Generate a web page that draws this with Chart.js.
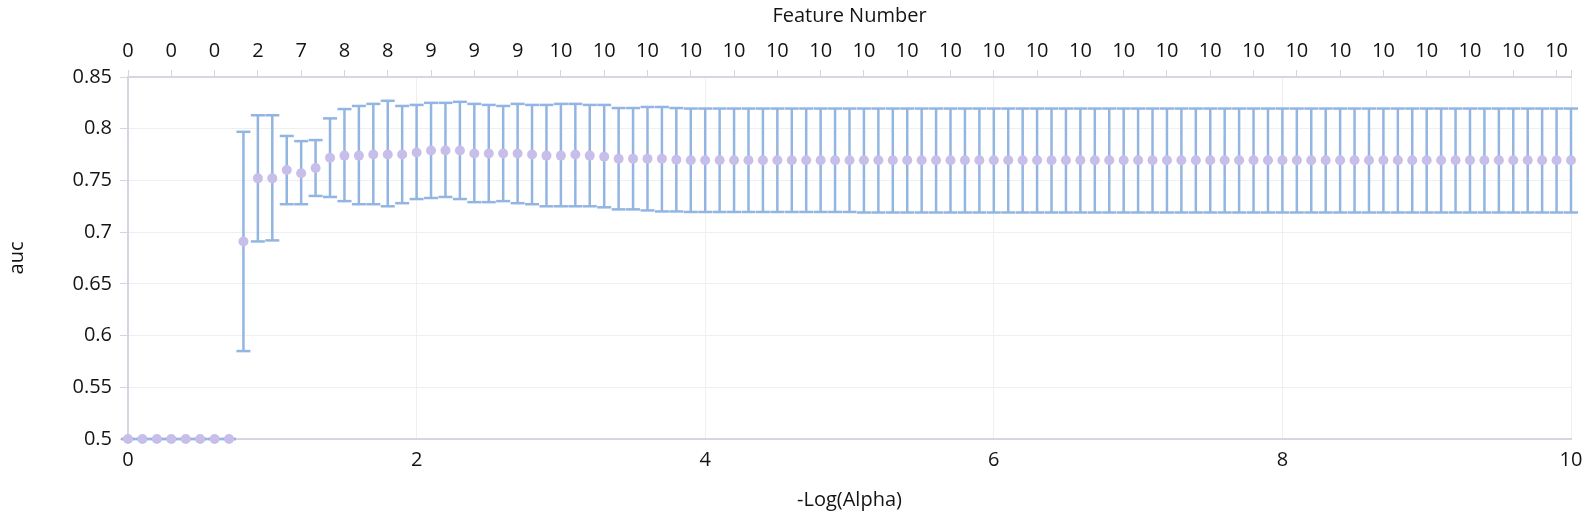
<!DOCTYPE html>
<html>
<head>
<meta charset="utf-8">
<title>auc vs -Log(Alpha)</title>
<script src="https://cdn.jsdelivr.net/npm/chart.js@4.4.1/dist/chart.umd.min.js"></script>
<style>
  html, body { margin: 0; padding: 0; background: #ffffff; }
  #wrap { width: 1594px; height: 520px; }
</style>
</head>
<body>
<div id="wrap"><canvas id="chartAuc" width="1594" height="520"></canvas></div>
<script>
(function () {
  'use strict';

  // -Log(Alpha) values, one per fitted model
  var logAlpha = [
    0, 0.1, 0.2, 0.3, 0.4, 0.5, 0.6, 0.7, 0.8, 0.9,
    1, 1.1, 1.2, 1.3, 1.4, 1.5, 1.6, 1.7, 1.8, 1.9,
    2, 2.1, 2.2, 2.3, 2.4, 2.5, 2.6, 2.7, 2.8, 2.9,
    3, 3.1, 3.2, 3.3, 3.4, 3.5, 3.6, 3.7, 3.8, 3.9,
    4, 4.1, 4.2, 4.3, 4.4, 4.5, 4.6, 4.7, 4.8, 4.9,
    5, 5.1, 5.2, 5.3, 5.4, 5.5, 5.6, 5.7, 5.8, 5.9,
    6, 6.1, 6.2, 6.3, 6.4, 6.5, 6.6, 6.7, 6.8, 6.9,
    7, 7.1, 7.2, 7.3, 7.4, 7.5, 7.6, 7.7, 7.8, 7.9,
    8, 8.1, 8.2, 8.3, 8.4, 8.5, 8.6, 8.7, 8.8, 8.9,
    9, 9.1, 9.2, 9.3, 9.4, 9.5, 9.6, 9.7, 9.8, 9.9,
    10
  ];

  // mean auc
  var meanAuc = [
    0.5, 0.5, 0.5, 0.5, 0.5, 0.5, 0.5, 0.5, 0.691, 0.752,
    0.752, 0.760, 0.757, 0.762, 0.772, 0.774, 0.774, 0.775, 0.775, 0.775,
    0.777, 0.779, 0.779, 0.779, 0.776, 0.776, 0.776, 0.776, 0.775, 0.774,
    0.774, 0.775, 0.774, 0.773, 0.771, 0.771, 0.771, 0.771, 0.770, 0.7695,
    0.7695, 0.7695, 0.7695, 0.7695, 0.7695, 0.7695, 0.7695, 0.7695, 0.7695, 0.7695,
    0.7695, 0.7695, 0.7695, 0.7695, 0.7695, 0.7695, 0.7695, 0.7695, 0.7695, 0.7695,
    0.7695, 0.7695, 0.7695, 0.7695, 0.7695, 0.7695, 0.7695, 0.7695, 0.7695, 0.7695,
    0.7695, 0.7695, 0.7695, 0.7695, 0.7695, 0.7695, 0.7695, 0.7695, 0.7695, 0.7695,
    0.7695, 0.7695, 0.7695, 0.7695, 0.7695, 0.7695, 0.7695, 0.7695, 0.7695, 0.7695,
    0.7695, 0.7695, 0.7695, 0.7695, 0.7695, 0.7695, 0.7695, 0.7695, 0.7695, 0.7695,
    0.7695
  ];

  // lower end of the error bar
  var lowAuc = [
    0.5, 0.5, 0.5, 0.5, 0.5, 0.5, 0.5, 0.5, 0.585, 0.691,
    0.692, 0.727, 0.727, 0.735, 0.734, 0.730, 0.727, 0.727, 0.725, 0.728,
    0.732, 0.733, 0.734, 0.732, 0.729, 0.729, 0.730, 0.728, 0.727, 0.725,
    0.725, 0.725, 0.725, 0.724, 0.722, 0.722, 0.721, 0.720, 0.720, 0.7195,
    0.7195, 0.7195, 0.7195, 0.7195, 0.7195, 0.7195, 0.7195, 0.7195, 0.7195, 0.7195,
    0.7195, 0.719, 0.719, 0.719, 0.719, 0.719, 0.719, 0.719, 0.719, 0.719,
    0.719, 0.719, 0.719, 0.719, 0.719, 0.719, 0.719, 0.719, 0.719, 0.719,
    0.719, 0.719, 0.719, 0.719, 0.719, 0.719, 0.719, 0.719, 0.719, 0.719,
    0.719, 0.719, 0.719, 0.719, 0.719, 0.719, 0.719, 0.719, 0.719, 0.719,
    0.719, 0.719, 0.719, 0.719, 0.719, 0.719, 0.719, 0.719, 0.719, 0.719,
    0.719
  ];

  // upper end of the error bar
  var highAuc = [
    0.5, 0.5, 0.5, 0.5, 0.5, 0.5, 0.5, 0.5, 0.797, 0.813,
    0.813, 0.793, 0.788, 0.789, 0.810, 0.819, 0.822, 0.824, 0.827, 0.822,
    0.823, 0.825, 0.825, 0.826, 0.824, 0.823, 0.822, 0.824, 0.823, 0.823,
    0.824, 0.824, 0.823, 0.823, 0.820, 0.820, 0.821, 0.821, 0.820, 0.8195,
    0.8195, 0.8195, 0.8195, 0.8195, 0.8195, 0.8195, 0.8195, 0.8195, 0.8195, 0.8195,
    0.8195, 0.8195, 0.8195, 0.8195, 0.8195, 0.8195, 0.8195, 0.8195, 0.8195, 0.8195,
    0.8195, 0.8195, 0.8195, 0.8195, 0.8195, 0.8195, 0.8195, 0.8195, 0.8195, 0.8195,
    0.8195, 0.8195, 0.8195, 0.8195, 0.8195, 0.8195, 0.8195, 0.8195, 0.8195, 0.8195,
    0.8195, 0.8195, 0.8195, 0.8195, 0.8195, 0.8195, 0.8195, 0.8195, 0.8195, 0.8195,
    0.8195, 0.8195, 0.8195, 0.8195, 0.8195, 0.8195, 0.8195, 0.8195, 0.8195, 0.8195,
    0.8195
  ];

  // top axis: number of features, one label every TOP_STEP of -Log(Alpha)
  var TOP_STEP = 0.3;
  var featureCounts = [
    0, 0, 0, 2, 7, 8, 8, 9, 9, 9,
    10, 10, 10, 10, 10, 10, 10, 10, 10, 10,
    10, 10, 10, 10, 10, 10, 10, 10, 10, 10,
    10, 10, 10, 10
  ];

  var COLOR_BAR = 'rgb(146, 181, 225)';
  var COLOR_POINT = 'rgb(200, 190, 234)';
  var COLOR_AXIS = 'rgb(212, 215, 226)';
  var COLOR_GRID = 'rgb(239, 239, 242)';
  var COLOR_TEXT = 'rgb(20, 20, 20)';
  var FONT = { family: "'Open Sans', 'Noto Sans', sans-serif", size: 20 };
  var LINE_W = 2.5;

  function fixedHeight(h) {
    return function (scale) { scale.height = h; };
  }

  var whiskers = logAlpha.map(function (x, i) { return { x: x, y: [lowAuc[i], highAuc[i]] }; });
  var lowCaps = logAlpha.map(function (x, i) { return { x: x, y: lowAuc[i] }; });
  var highCaps = logAlpha.map(function (x, i) { return { x: x, y: highAuc[i] }; });
  var means = logAlpha.map(function (x, i) { return { x: x, y: meanAuc[i] }; });

  function capDataset(data) {
    return {
      type: 'scatter',
      data: data,
      xAxisID: 'x',
      yAxisID: 'y',
      pointStyle: 'line',
      pointRadius: 7,
      pointHoverRadius: 7,
      borderColor: COLOR_BAR,
      backgroundColor: COLOR_BAR,
      pointBorderWidth: LINE_W,
      clip: false,
      order: 1
    };
  }

  var ctx = document.getElementById('chartAuc').getContext('2d');
  new Chart(ctx, {
    type: 'scatter',
    data: {
      datasets: [
        {
          type: 'scatter',
          label: 'auc',
          data: means,
          xAxisID: 'x',
          yAxisID: 'y',
          pointRadius: 5,
          pointHoverRadius: 5,
          pointBorderWidth: 0,
          backgroundColor: COLOR_POINT,
          borderColor: COLOR_POINT,
          clip: false,
          order: 0
        },
        capDataset(lowCaps),
        capDataset(highCaps),
        {
          type: 'bar',
          label: 'range',
          data: whiskers,
          xAxisID: 'x',
          yAxisID: 'y',
          barThickness: LINE_W,
          backgroundColor: COLOR_BAR,
          borderWidth: 0,
          inflateAmount: 0,
          clip: false,
          order: 2
        }
      ]
    },
    options: {
      responsive: false,
      animation: false,
      devicePixelRatio: 1,
      events: [],
      layout: { padding: { left: 1, right: 23, top: 0, bottom: 4 } },
      plugins: {
        legend: { display: false },
        tooltip: { enabled: false }
      },
      scales: {
        x: {
          type: 'linear',
          position: 'bottom',
          min: 0,
          max: 10,
          offset: false,
          afterFit: fixedHeight(77),
          grid: { color: COLOR_GRID, drawTicks: false, offset: false },
          border: { color: COLOR_AXIS, width: 2 },
          ticks: { stepSize: 2, padding: 9, color: COLOR_TEXT, font: FONT, maxRotation: 0 },
          title: { display: true, text: '-Log(Alpha)', color: COLOR_TEXT, font: FONT }
        },
        x2: {
          type: 'linear',
          position: 'top',
          min: 0,
          max: 10,
          offset: false,
          afterFit: fixedHeight(77),
          afterBuildTicks: function (scale) {
            var ticks = featureCounts.map(function (c, i) { return { value: Math.round(i * TOP_STEP * 10) / 10 }; });
            ticks.push({ value: 10 });
            scale.ticks = ticks;
          },
          grid: { drawOnChartArea: false, tickLength: 7, tickColor: COLOR_AXIS, color: COLOR_AXIS },
          border: { color: COLOR_AXIS, width: 2 },
          ticks: {
            autoSkip: false,
            maxRotation: 0,
            minRotation: 0,
            padding: 7,
            color: COLOR_TEXT,
            font: FONT,
            callback: function (value, index) {
              return index < featureCounts.length ? String(featureCounts[index]) : '';
            }
          },
          title: { display: true, text: 'Feature Number', color: COLOR_TEXT, font: FONT }
        },
        y: {
          type: 'linear',
          min: 0.5,
          max: 0.85,
          afterFit: function (scale) { scale.width = 127; },
          grid: { color: COLOR_GRID, tickColor: COLOR_AXIS, tickLength: 8 },
          border: { color: COLOR_AXIS, width: 2 },
          ticks: {
            stepSize: 0.05,
            padding: 8,
            color: COLOR_TEXT,
            font: FONT,
            callback: function (v) { return String(+v.toFixed(2)); }
          },
          title: { display: true, text: 'auc', color: COLOR_TEXT, font: FONT }
        }
      }
    }
  });
})();
</script>
</body>
</html>
